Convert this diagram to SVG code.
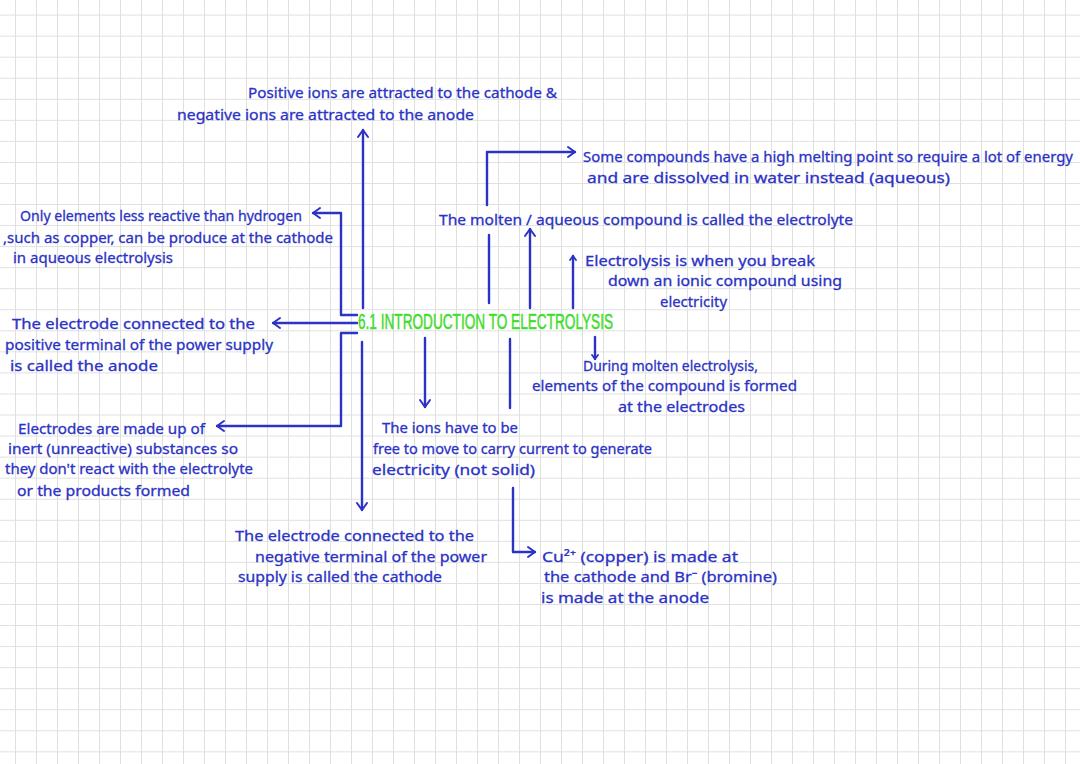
<svg xmlns="http://www.w3.org/2000/svg" width="1080" height="764" viewBox="0 0 1080 764">
<style>
.t{font-family:"Noto Sans","Liberation Sans",sans-serif;font-size:15px;fill:#2b32c4;stroke:#2b32c4;stroke-width:0.3}
.title{font-family:"Liberation Sans","DejaVu Sans",sans-serif;font-size:22px;fill:#42dc2c;stroke:#42dc2c;stroke-width:0.5}
.c{fill:none;stroke:#2b32c4;stroke-width:2.4;stroke-linecap:round;stroke-linejoin:round}
</style>
<defs>
<pattern id="grid" patternUnits="userSpaceOnUse" x="15" y="14.6" width="21" height="21.05">
<path d="M0 0.5H21M0.5 0V21.05" fill="none" stroke="#dfdfdf" stroke-width="1"/>
</pattern>
<marker id="arr" viewBox="-9 -7 11 14" refX="0" refY="0" markerWidth="11" markerHeight="14" markerUnits="userSpaceOnUse" orient="auto">
<path d="M-7,-5 L0,0 L-7,5" fill="none" stroke="#2b32c4" stroke-width="2" stroke-linecap="round" stroke-linejoin="round"/>
</marker>
<marker id="sarr" viewBox="-6 -5 8 10" refX="0" refY="0" markerWidth="8" markerHeight="10" markerUnits="userSpaceOnUse" orient="auto">
<path d="M-4,-3 L0,0 L-4,3" fill="none" stroke="#2b32c4" stroke-width="1.8" stroke-linecap="round" stroke-linejoin="round"/>
</marker>
</defs>
<rect width="1080" height="764" fill="#ffffff"/>
<rect width="1080" height="764" fill="url(#grid)"/>

<g id="connectors">
<path class="c" d="M363,308 V130" marker-end="url(#arr)"/>
<path class="c" d="M357,315 H341 V213 H313" marker-end="url(#arr)"/>
<path class="c" d="M357,323 H273" marker-end="url(#arr)"/>
<path class="c" d="M357,333 H341 V426 H217" marker-end="url(#arr)"/>
<path class="c" d="M362,342 V510" marker-end="url(#arr)"/>
<path class="c" d="M425,338 V407" marker-end="url(#arr)"/>
<path class="c" d="M510,339 V408"/>
<path class="c" d="M595,337 V359" marker-end="url(#sarr)"/>
<path class="c" d="M513,488 V552 H535" marker-end="url(#arr)"/>
<path class="c" d="M489,303 V235"/>
<path class="c" d="M530,308 V229" marker-end="url(#arr)"/>
<path class="c" d="M573,308 V256" marker-end="url(#sarr)"/>
<path class="c" d="M487,205 V152 H575" marker-end="url(#arr)"/>
</g>

<g id="title">
<text class="title" x="358" y="329" textLength="255" lengthAdjust="spacingAndGlyphs">6.1 INTRODUCTION TO ELECTROLYSIS</text>
</g>

<g id="node-ions-attracted">
<text class="t" x="248" y="98" textLength="309" lengthAdjust="spacingAndGlyphs">Positive ions are attracted to the cathode &amp;</text>
<text class="t" x="177" y="120" textLength="297" lengthAdjust="spacingAndGlyphs">negative ions are attracted to the anode</text>
</g>

<g id="node-less-reactive">
<text class="t" x="20" y="221" textLength="282" lengthAdjust="spacingAndGlyphs">Only elements less reactive than hydrogen</text>
<text class="t" x="3" y="243" textLength="330" lengthAdjust="spacingAndGlyphs">,such as copper, can be produce at the cathode</text>
<text class="t" x="13" y="263" textLength="160" lengthAdjust="spacingAndGlyphs">in aqueous electrolysis</text>
</g>

<g id="node-high-melting">
<text class="t" x="583" y="162" textLength="490" lengthAdjust="spacingAndGlyphs">Some compounds have a high melting point so require a lot of energy</text>
<text class="t" x="587" y="183" textLength="363" lengthAdjust="spacingAndGlyphs">and are dissolved in water instead (aqueous)</text>
</g>

<g id="node-electrolyte">
<text class="t" x="439" y="225" textLength="414" lengthAdjust="spacingAndGlyphs">The molten / aqueous compound is called the electrolyte</text>
</g>

<g id="node-definition">
<text class="t" x="585" y="266" textLength="230" lengthAdjust="spacingAndGlyphs">Electrolysis is when you break</text>
<text class="t" x="608" y="286" textLength="234" lengthAdjust="spacingAndGlyphs">down an ionic compound using</text>
<text class="t" x="660" y="307" textLength="67" lengthAdjust="spacingAndGlyphs">electricity</text>
</g>

<g id="node-anode">
<text class="t" x="12" y="329" textLength="243" lengthAdjust="spacingAndGlyphs">The electrode connected to the</text>
<text class="t" x="5" y="350" textLength="268" lengthAdjust="spacingAndGlyphs">positive terminal of the power supply</text>
<text class="t" x="10" y="371" textLength="148" lengthAdjust="spacingAndGlyphs">is called the anode</text>
</g>

<g id="node-inert">
<text class="t" x="18" y="434" textLength="187" lengthAdjust="spacingAndGlyphs">Electrodes are made up of</text>
<text class="t" x="8" y="454" textLength="230" lengthAdjust="spacingAndGlyphs">inert (unreactive) substances so</text>
<text class="t" x="5" y="474" textLength="248" lengthAdjust="spacingAndGlyphs">they don't react with the electrolyte</text>
<text class="t" x="17" y="496" textLength="173" lengthAdjust="spacingAndGlyphs">or the products formed</text>
</g>

<g id="node-molten">
<text class="t" x="583" y="371" textLength="175" lengthAdjust="spacingAndGlyphs">During molten electrolysis,</text>
<text class="t" x="532" y="391" textLength="265" lengthAdjust="spacingAndGlyphs">elements of the compound is formed</text>
<text class="t" x="618" y="412" textLength="127" lengthAdjust="spacingAndGlyphs">at the electrodes</text>
</g>

<g id="node-free-ions">
<text class="t" x="382" y="433" textLength="136" lengthAdjust="spacingAndGlyphs">The ions have to be</text>
<text class="t" x="373" y="454" textLength="279" lengthAdjust="spacingAndGlyphs">free to move to carry current to generate</text>
<text class="t" x="372" y="475" textLength="163" lengthAdjust="spacingAndGlyphs">electricity (not solid)</text>
</g>

<g id="node-cathode">
<text class="t" x="235" y="541" textLength="239" lengthAdjust="spacingAndGlyphs">The electrode connected to the</text>
<text class="t" x="255" y="562" textLength="232" lengthAdjust="spacingAndGlyphs">negative terminal of the power</text>
<text class="t" x="238" y="582" textLength="204" lengthAdjust="spacingAndGlyphs">supply is called the cathode</text>
</g>

<g id="node-copper">
<text class="t" x="542" y="562" textLength="196" lengthAdjust="spacingAndGlyphs">Cu²⁺ (copper) is made at</text>
<text class="t" x="544" y="582" textLength="233" lengthAdjust="spacingAndGlyphs">the cathode and Br⁻ (bromine)</text>
<text class="t" x="541" y="603" textLength="168" lengthAdjust="spacingAndGlyphs">is made at the anode</text>
</g>
</svg>
